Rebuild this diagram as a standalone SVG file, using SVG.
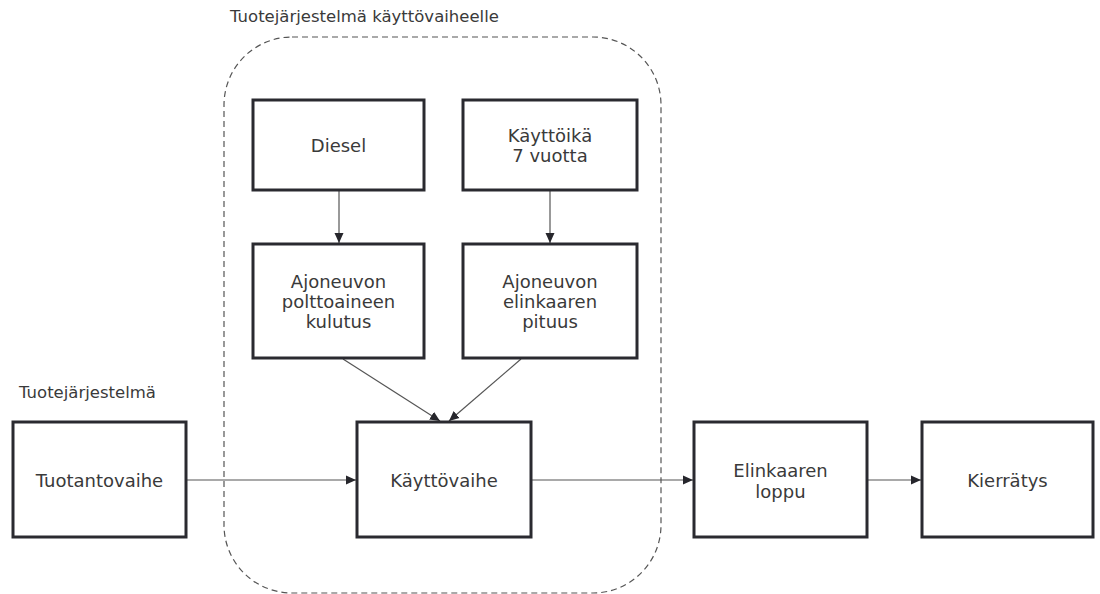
<svg xmlns="http://www.w3.org/2000/svg" width="1100" height="594" viewBox="0 0 1100 594">
  <defs>
    <marker id="arrow" viewBox="0 0 10 10" refX="10" refY="5" markerWidth="10" markerHeight="10" markerUnits="userSpaceOnUse" orient="auto">
      <path d="M0,0.5 L10,5 L0,9.5 Z" fill="#26262c"/>
    </marker>
    <style>
      .box { fill: #ffffff; stroke: #2a2a30; stroke-width: 3; }
      .label { font-family: "DejaVu Sans", Verdana, sans-serif; font-size: 18px; fill: #3a3a3a; text-anchor: middle; }
      .caption { font-family: "DejaVu Sans", Verdana, sans-serif; font-size: 16.5px; fill: #3a3a3a; }
      .conn { fill: none; stroke: #555555; stroke-width: 1.2; marker-end: url(#arrow); }
      .scope { fill: none; stroke: #555555; stroke-width: 1.2; stroke-dasharray: 6 4; }
    </style>
  </defs>

  <rect width="1100" height="594" fill="#ffffff"/>

  <!-- system boundary for the use phase -->
  <g id="use-phase-scope">
    <rect class="scope" x="224" y="37" width="437" height="556" rx="68" ry="68"/>
    <text class="caption" x="230" y="22">Tuotejärjestelmä käyttövaiheelle</text>
  </g>

  <text class="caption" id="product-system-caption" x="19" y="398">Tuotejärjestelmä</text>

  <!-- connectors -->
  <g id="connectors">
    <line class="conn" x1="339" y1="191" x2="339" y2="243"/>
    <line class="conn" x1="550" y1="191" x2="550" y2="243"/>
    <line class="conn" x1="343" y1="359" x2="440" y2="421"/>
    <line class="conn" x1="521" y1="359" x2="449" y2="421"/>
    <line class="conn" x1="187" y1="480" x2="356" y2="480"/>
    <line class="conn" x1="532" y1="480" x2="693" y2="480"/>
    <line class="conn" x1="868" y1="480" x2="921" y2="480"/>
  </g>

  <g id="diesel">
    <rect class="box" x="253" y="100" width="171" height="90"/>
    <text class="label" x="338.5" y="151.5">Diesel</text>
  </g>

  <g id="kayttoika">
    <rect class="box" x="463" y="100" width="174" height="90"/>
    <text class="label" x="550" y="141.5">Käyttöikä</text>
    <text class="label" x="550" y="161.5">7 vuotta</text>
  </g>

  <g id="polttoaineen-kulutus">
    <rect class="box" x="253" y="244" width="171" height="114"/>
    <text class="label" x="338.5" y="288">Ajoneuvon</text>
    <text class="label" x="338.5" y="308">polttoaineen</text>
    <text class="label" x="338.5" y="328">kulutus</text>
  </g>

  <g id="elinkaaren-pituus">
    <rect class="box" x="463" y="244" width="174" height="114"/>
    <text class="label" x="550" y="288">Ajoneuvon</text>
    <text class="label" x="550" y="308">elinkaaren</text>
    <text class="label" x="550" y="328">pituus</text>
  </g>

  <g id="tuotantovaihe">
    <rect class="box" x="13" y="422" width="173" height="115"/>
    <text class="label" x="99.5" y="486.5">Tuotantovaihe</text>
  </g>

  <g id="kayttovaihe">
    <rect class="box" x="357" y="422" width="174" height="115"/>
    <text class="label" x="444" y="486.5">Käyttövaihe</text>
  </g>

  <g id="elinkaaren-loppu">
    <rect class="box" x="694" y="422" width="173" height="115"/>
    <text class="label" x="780.5" y="476.5">Elinkaaren</text>
    <text class="label" x="780.5" y="497.5">loppu</text>
  </g>

  <g id="kierratys">
    <rect class="box" x="922" y="422" width="171" height="115"/>
    <text class="label" x="1007.5" y="486.5">Kierrätys</text>
  </g>
</svg>
